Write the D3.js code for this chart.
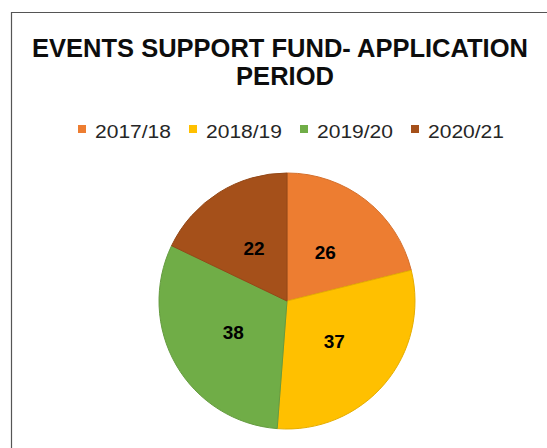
<!DOCTYPE html>
<html>
<head>
<meta charset="utf-8">
<script src="https://cdn.jsdelivr.net/npm/d3@7"></script>
<style>
  body { margin: 0; background: #fff; }
  text { font-family: "Liberation Sans", Arial, sans-serif; }
</style>
</head>
<body>
<div id="chart"></div>
<script>
// data
const periods = ["2017/18", "2018/19", "2019/20", "2020/21"];
const applications = [26, 37, 38, 22];
const colours = ["#ED7D31", "#FFC000", "#70AD47", "#A5501A"];

const width = 547, height = 448;
const cx = 287, cy = 301, radius = 128;

const svg = d3.select("#chart").append("svg")
    .attr("width", width)
    .attr("height", height);

// frame
svg.append("path")
    .attr("d", `M11.5,${height} L11.5,12.5 L${width},12.5`)
    .attr("fill", "none")
    .attr("stroke", "#555")
    .attr("stroke-width", 1.2);

// title
const title = svg.append("text")
    .attr("text-anchor", "middle")
    .attr("font-weight", "bold")
    .attr("font-size", 25.5)
    .attr("fill", "#0d0d0d");
title.append("tspan").attr("x", 280).attr("y", 57).text("EVENTS SUPPORT FUND- APPLICATION");
title.append("tspan").attr("x", 285).attr("y", 85).text("PERIOD");

// legend
const step = 111;
const legend = svg.selectAll(".legend")
    .data(periods)
    .join("g")
    .attr("class", "legend")
    .attr("transform", (d, i) => `translate(${95 + i * step},137.5)`);

legend.append("rect")
    .attr("x", -17).attr("y", -12.5)
    .attr("width", 8).attr("height", 8)
    .attr("fill", (d, i) => colours[i]);

legend.append("text")
    .attr("x", 0).attr("y", 0)
    .attr("font-size", 18)
    .attr("textLength", 76)
    .attr("lengthAdjust", "spacingAndGlyphs")
    .attr("fill", "#262626")
    .text(d => d);

// pie
const pie = d3.pie().sort(null).value(d => d);
const arc = d3.arc().innerRadius(0).outerRadius(radius);
const labelArc = d3.arc().innerRadius(62).outerRadius(62);

const g = svg.append("g").attr("transform", `translate(${cx},${cy})`);
const arcs = pie(applications);

g.selectAll("path")
    .data(arcs)
    .join("path")
    .attr("d", arc)
    .attr("fill", (d, i) => colours[i])
    .attr("stroke", (d, i) => d3.color(colours[i]).darker(0.3))
    .attr("stroke-width", 1);

g.selectAll(".lbl")
    .data(arcs)
    .join("text")
    .attr("class", "lbl")
    .attr("transform", d => `translate(${labelArc.centroid(d)})`)
    .attr("text-anchor", "middle")
    .attr("dy", "0.36em")
    .attr("font-size", 19)
    .attr("font-weight", "bold")
    .attr("fill", "#000")
    .text(d => d.data);
</script>
</body>
</html>
